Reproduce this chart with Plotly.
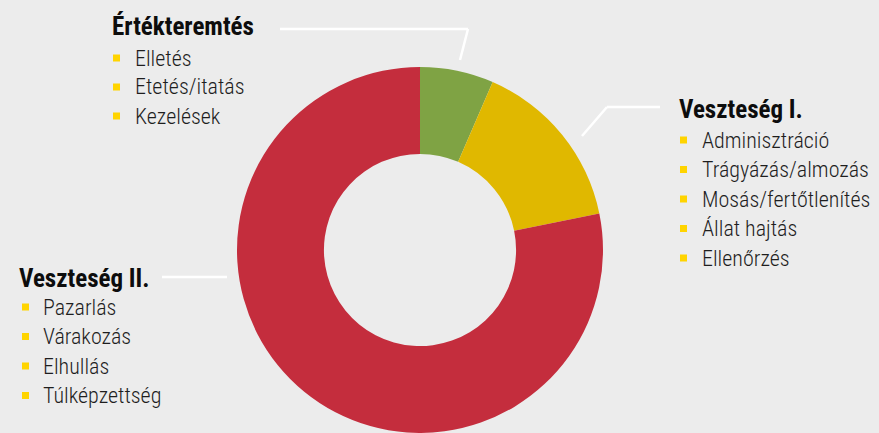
import plotly.graph_objects as go

W, H = 879, 433

# Share of activities in the donut
groups = ["Értékteremtés", "Veszteség I.", "Veszteség II."]
shares = [6.5, 15.3, 78.2]
slice_colors = ["#7fa344", "#e0b800", "#c42d3d"]

# Activity lists per group
items_value = ["Elletés", "Etetés/itatás", "Kezelések"]
items_loss1 = ["Adminisztráció", "Trágyázás/almozás", "Mosás/fertőtlenítés", "Állat hajtás", "Ellenőrzés"]
items_loss2 = ["Pazarlás", "Várakozás", "Elhullás", "Túlképzettség"]

BG = "#ececec"
BULLET = "#ffd400"
FONT = "Roboto Condensed, DejaVu Sans Condensed, sans-serif"


def px(x):
    return x / W


def py(y):
    return 1 - y / H


fig = go.Figure(go.Pie(
    labels=groups,
    values=shares,
    marker=dict(colors=slice_colors, line=dict(width=0)),
    hole=0.525,
    sort=False,
    direction="clockwise",
    rotation=0,
    textinfo="none",
    hoverinfo="label+percent",
    showlegend=False,
    domain=dict(x=[px(237), px(603)], y=[0, py(67)]),
))

annotations = []
shapes = []


def add_block(title, items, x_head, y_head, x_text, x_bullet, y_first, step):
    annotations.append(dict(
        text=f"<b>{title}</b>", x=px(x_head), y=py(y_head), xref="paper", yref="paper",
        xanchor="left", yanchor="middle", showarrow=False,
        font=dict(family=FONT, size=25, color="#0d0d0d"),
    ))
    for i, it in enumerate(items):
        yc = y_first + i * step
        annotations.append(dict(
            text=it, x=px(x_text), y=py(yc), xref="paper", yref="paper",
            xanchor="left", yanchor="middle", showarrow=False,
            font=dict(family=FONT, size=22, color="#1e1e1e", weight=300),
        ))
        shapes.append(dict(
            type="rect", xref="paper", yref="paper",
            x0=px(x_bullet), x1=px(x_bullet + 7), y0=py(yc - 3.5), y1=py(yc + 3.5),
            fillcolor=BULLET, line=dict(width=0),
        ))


add_block(groups[0], items_value, 110, 26, 133, 113, 58, 29)
add_block(groups[1], items_loss1, 677, 110, 700, 680, 140, 29.5)
add_block(groups[2], items_loss2, 17, 278, 41, 22, 307, 29.5)

# Leader lines
for (x0, y0, x1, y1) in [
    (280, 29, 468, 29), (468, 29, 460, 60),
    (660, 107, 607, 107), (607, 107, 582, 136),
    (162, 277, 227, 277),
]:
    shapes.append(dict(
        type="line", xref="paper", yref="paper",
        x0=px(x0), y0=py(y0), x1=px(x1), y1=py(y1),
        line=dict(color="#ffffff", width=2.5),
    ))

fig.update_layout(
    width=W, height=H,
    margin=dict(l=0, r=0, t=0, b=0),
    paper_bgcolor=BG, plot_bgcolor=BG,
    annotations=annotations, shapes=shapes,
)

fig.write_html("out.html")
